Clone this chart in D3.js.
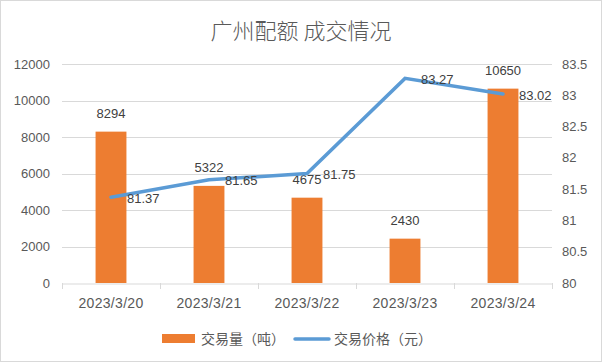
<!DOCTYPE html>
<html><head><meta charset="utf-8">
<script src="https://cdn.jsdelivr.net/npm/d3@7/dist/d3.min.js"></script>
<style>body{margin:0;background:#fff}svg text{font-family:"Liberation Sans","DejaVu Sans",sans-serif}</style>
</head><body>
<svg id="c" width="602" height="362"></svg>
<script>
const title = "广州配额 成交情况";
const categories = ["2023/3/20","2023/3/21","2023/3/22","2023/3/23","2023/3/24"];
const volume = [8294, 5322, 4675, 2430, 10650];
const price = [81.37, 81.65, 81.75, 83.27, 83.02];
const leftTicks = [0,2000,4000,6000,8000,10000,12000];
const rightTicks = [80,80.5,81,81.5,82,82.5,83,83.5];
const legendLabels = ["交易量（吨）","交易价格（元）"];

const svg = d3.select("#c");
const cjk = '"Noto Sans CJK SC","Noto Sans",sans-serif';
const txt = "#595959";
svg.append("rect").attr("x",0.5).attr("y",0.5).attr("width",601).attr("height",361)
  .attr("fill","#fff").attr("stroke","#D9D9D9");

const x0=62,x1=552,yTop=64,yBot=283;
const x = d3.scaleBand().domain(categories).range([x0,x1]).paddingInner(0.685).paddingOuter(0.3425);
const xb = d3.scaleBand().domain(categories).range([x0,x1]);
const yL = d3.scaleLinear().domain([0,12000]).range([yBot,yTop]);
const yR = d3.scaleLinear().domain([80,83.5]).range([yBot,yTop]);

svg.append("text").attr("x",301).attr("y",39).attr("text-anchor","middle")
  .style("font-family",cjk).style("font-size","22px").style("font-weight","300").attr("fill",txt).text(title);

// gridlines
svg.append("g").selectAll("line").data(leftTicks.slice(1)).join("line")
  .attr("x1",x0).attr("x2",x1).attr("y1",d=>Math.round(yL(d))+0.5).attr("y2",d=>Math.round(yL(d))+0.5)
  .attr("stroke","#D9D9D9");

// left axis labels
svg.append("g").selectAll("text").data(leftTicks).join("text")
  .attr("x",50).attr("y",d=>yL(d)).attr("dy","0.35em").attr("text-anchor","end")
  .style("font-size","13px").attr("fill",txt).text(d=>d);
// right axis labels
svg.append("g").selectAll("text").data(rightTicks).join("text")
  .attr("x",562).attr("y",d=>yR(d)).attr("dy","0.35em").attr("text-anchor","start")
  .style("font-size","13px").attr("fill",txt).text(d=>d);

// x axis
const xa = svg.append("g").attr("transform",`translate(0,${yBot+0.5})`)
  .call(d3.axisBottom(xb).tickSize(0).tickSizeOuter(0));
xa.select(".domain").attr("stroke","#D9D9D9");
xa.selectAll("text").style("font-size","14px").attr("fill",txt).attr("dy","0").attr("y",24)
  .style("font-family","Liberation Sans").style("letter-spacing","0.3px");
svg.append("g").selectAll("line").data(d3.range(categories.length+1)).join("line")
  .attr("x1",i=>Math.round(x0+i*xb.bandwidth())+0.5).attr("x2",i=>Math.round(x0+i*xb.bandwidth())+0.5)
  .attr("y1",yBot).attr("y2",yBot+6).attr("stroke","#D9D9D9");

// bars
svg.append("g").selectAll("rect").data(volume).join("rect")
  .attr("x",(d,i)=>x(categories[i])).attr("width",x.bandwidth())
  .attr("y",d=>yL(d)).attr("height",d=>yBot-yL(d)).attr("fill","#ED7D31");
svg.append("g").selectAll("text").data(volume).join("text")
  .attr("x",(d,i)=>x(categories[i])+x.bandwidth()/2).attr("y",d=>yL(d)-18).attr("dy","0.35em")
  .attr("text-anchor","middle").style("font-size","13px").attr("fill","#404040").text(d=>d);

// line
const cx = i=>xb(categories[i])+xb.bandwidth()/2;
svg.append("path").datum(price)
  .attr("d",d3.line().x((d,i)=>cx(i)).y(d=>yR(d)))
  .attr("fill","none").attr("stroke","#5B9BD5").attr("stroke-width",3.5).attr("stroke-linecap","round");
svg.append("g").selectAll("text").data(price).join("text")
  .attr("x",(d,i)=>cx(i)+16).attr("y",d=>yR(d)+1).attr("dy","0.35em")
  .style("font-size","13px").attr("fill","#404040").text(d=>d.toFixed(2));

// legend
const lg = svg.append("g");
lg.append("rect").attr("x",162).attr("y",334).attr("width",33).attr("height",9).attr("fill","#ED7D31");
lg.append("text").attr("x",201).attr("y",339).attr("dy","0.35em").style("font-family",cjk)
  .style("font-size","14px").attr("fill",txt).text(legendLabels[0]);
lg.append("line").attr("x1",295).attr("x2",329).attr("y1",339).attr("y2",339)
  .attr("stroke","#5B9BD5").attr("stroke-width",3.5).attr("stroke-linecap","round");
lg.append("text").attr("x",334).attr("y",339).attr("dy","0.35em").style("font-family",cjk)
  .style("font-size","14px").attr("fill",txt).text(legendLabels[1]);
</script>
</body></html>
